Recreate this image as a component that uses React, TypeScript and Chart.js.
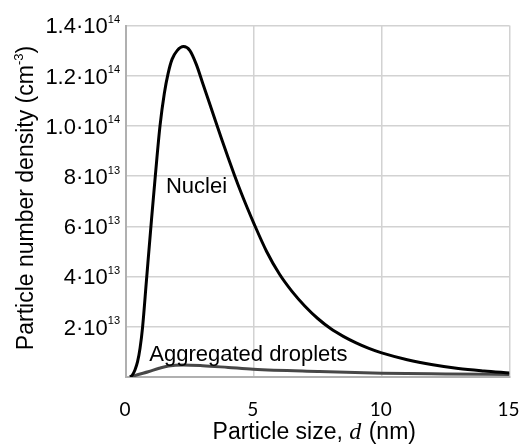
import React, { useEffect, useRef } from "react";
import { Chart, registerables } from "chart.js";

Chart.register(...registerables);

// Nuclei curve (particle size in nm, number density in cm^-3)
const nucleiSize = [0.16, 0.25, 0.35, 0.45, 0.55, 0.65, 0.8, 1.0, 1.15, 1.33, 1.5, 1.65, 1.8, 2.0, 2.25, 2.5, 2.75, 3.0, 3.25, 3.5, 3.75, 4.0, 4.25, 4.5, 4.75, 5.0, 5.5, 6.0, 6.5, 7.0, 7.5, 8.0, 8.5, 9.0, 9.5, 10.0, 11.0, 12.0, 13.0, 14.0, 15.0];
const nucleiDensity = [0, 0.08e13, 0.28e13, 0.6e13, 1.15e13, 2.0e13, 3.85e13, 6.3e13, 8.05e13, 10.0e13, 11.3e13, 12.1e13, 12.65e13, 13.0e13, 13.16e13, 13.0e13, 12.45e13, 11.7e13, 10.95e13, 10.2e13, 9.45e13, 8.72e13, 8.02e13, 7.35e13, 6.72e13, 6.12e13, 5.0e13, 4.1e13, 3.4e13, 2.82e13, 2.33e13, 1.93e13, 1.62e13, 1.36e13, 1.14e13, 0.96e13, 0.69e13, 0.49e13, 0.34e13, 0.24e13, 0.16e13];

// Aggregated droplets curve
const dropletSize = [0.16, 0.48, 0.87, 1.3, 1.66, 2.24, 3.0, 4.0, 4.98, 7.5, 10.0, 12.5, 15.0];
const dropletDensity = [0, 0.1e13, 0.21e13, 0.35e13, 0.44e13, 0.48e13, 0.45e13, 0.38e13, 0.31e13, 0.22e13, 0.15e13, 0.12e13, 0.1e13];

// Axes
const xTickValues = [0, 5, 10, 15];
const xTickLabels = ["0", "5", "10", "15"];
const yTickValues = [2e13, 4e13, 6e13, 8e13, 1.0e14, 1.2e14, 1.4e14];
const yTickMantissas = ["2", "4", "6", "8", "1.0", "1.2", "1.4"];
const yTickExponents = ["13", "13", "13", "13", "14", "14", "14"];

// In-plot labels: text and data anchor (left/baseline)
const seriesNames = ["Nuclei", "Aggregated droplets"];
const labelSize = [1.56, 0.91];
const labelDensity = [7.32e13, 0.65e13];

const SANS = "'Liberation Sans', Arial, sans-serif";

const textPlugin = {
  id: "customText",
  afterDraw(chart: any) {
    const ctx = chart.ctx as CanvasRenderingContext2D;
    const xs = chart.scales.x;
    const ys = chart.scales.y;
    const area = chart.chartArea;
    ctx.save();
    ctx.fillStyle = "#000";
    ctx.textBaseline = "alphabetic";

    // y tick labels with superscript exponents
    const rightEdge = area.left - 6;
    for (let i = 0; i < yTickValues.length; i++) {
      const y = ys.getPixelForValue(yTickValues[i]);
      ctx.font = `11px ${SANS}`;
      const supW = ctx.measureText(yTickExponents[i]).width;
      ctx.textAlign = "right";
      ctx.fillText(yTickExponents[i], rightEdge, y - 2.5);
      ctx.font = `22px ${SANS}`;
      ctx.fillText(yTickMantissas[i] + "\u00B710", rightEdge - supW, y + 7.9);
    }

    // x tick labels
    ctx.font = `19px Lato, 'Open Sans', sans-serif`;
    ctx.textAlign = "center";
    ctx.textBaseline = "middle";
    for (let i = 0; i < xTickValues.length; i++) {
      ctx.fillText(xTickLabels[i], xs.getPixelForValue(xTickValues[i]) - 1, 410);
    }
    ctx.textBaseline = "alphabetic";

    // y axis title (rotated)
    ctx.save();
    ctx.translate(33, 198);
    ctx.rotate(-Math.PI / 2);
    ctx.textAlign = "left";
    const mainT = "Particle number density (cm";
    const supT = "-3";
    const endT = ")";
    ctx.font = `23px ${SANS}`;
    const w1 = ctx.measureText(mainT).width;
    const w3 = ctx.measureText(endT).width;
    ctx.font = `13px ${SANS}`;
    const w2 = ctx.measureText(supT).width;
    let sx = -(w1 + w2 + w3) / 2;
    ctx.font = `23px ${SANS}`;
    ctx.fillText(mainT, sx, 0);
    sx += w1;
    ctx.font = `13px ${SANS}`;
    ctx.fillText(supT, sx, -10.5);
    sx += w2;
    ctx.font = `23px ${SANS}`;
    ctx.fillText(endT, sx, 0);
    ctx.restore();

    // x axis title with italic d
    const a = "Particle size, ";
    const b = "d";
    const c = " (nm)";
    ctx.textAlign = "left";
    ctx.font = `23px ${SANS}`;
    const wa = ctx.measureText(a).width;
    const wc = ctx.measureText(c).width;
    ctx.font = `italic 24px 'Liberation Serif', serif`;
    const wb = ctx.measureText(b).width;
    let tx = (area.left + area.right) / 2 - 4 - (wa + wb + wc) / 2;
    ctx.font = `23px ${SANS}`;
    ctx.fillText(a, tx, 439);
    tx += wa;
    ctx.font = `italic 24px 'Liberation Serif', serif`;
    ctx.fillText(b, tx, 439);
    tx += wb + 1;
    ctx.font = `23px ${SANS}`;
    ctx.fillText(c, tx, 439);

    // Series labels
    ctx.font = `22px ${SANS}`;
    for (let i = 0; i < seriesNames.length; i++) {
      ctx.fillText(seriesNames[i], xs.getPixelForValue(labelSize[i]), ys.getPixelForValue(labelDensity[i]));
    }
    ctx.restore();
  },
};

export default function App() {
  const ref = useRef<HTMLCanvasElement | null>(null);

  useEffect(() => {
    if (!ref.current) return;
    const chart = new Chart(ref.current, {
      type: "line",
      data: {
        datasets: [
          {
            label: seriesNames[0],
            data: nucleiSize.map((d, i) => ({ x: d, y: nucleiDensity[i] })),
            borderColor: "#000000",
            borderWidth: 3,
            pointRadius: 0,
            fill: false,
            cubicInterpolationMode: "monotone",
          },
          {
            label: seriesNames[1],
            data: dropletSize.map((d, i) => ({ x: d, y: dropletDensity[i] })),
            borderColor: "#474747",
            borderWidth: 3,
            pointRadius: 0,
            fill: false,
            cubicInterpolationMode: "monotone",
          },
        ],
      },
      options: {
        responsive: false,
        maintainAspectRatio: false,
        animation: false,
        devicePixelRatio: 1,
        layout: { padding: { left: 126, right: 14.5, top: 25.5, bottom: 68 } },
        plugins: { legend: { display: false }, tooltip: { enabled: false } },
        scales: {
          x: {
            type: "linear",
            min: 0,
            max: 15,
            afterBuildTicks: (axis: any) => {
              axis.ticks = xTickValues.map((v) => ({ value: v }));
            },
            ticks: { display: false },
            grid: { color: "#d2d2d2", lineWidth: 1.5, drawTicks: false },
            border: { color: "#b0b0b0", width: 2 },
          },
          y: {
            type: "linear",
            min: 0,
            max: 1.4e14,
            afterBuildTicks: (axis: any) => {
              axis.ticks = [0, ...yTickValues].map((v) => ({ value: v }));
            },
            ticks: { display: false },
            grid: { color: "#d2d2d2", lineWidth: 1.5, drawTicks: false },
            border: { color: "#b0b0b0", width: 2 },
          },
        },
      },
      plugins: [textPlugin],
    });
    return () => chart.destroy();
  }, []);

  return (
    <div style={{ position: "absolute", left: 0, top: 0, width: 524, height: 445, background: "#fff" }}>
      <canvas ref={ref} width={524} height={445} style={{ display: "block" }} />
    </div>
  );
}
